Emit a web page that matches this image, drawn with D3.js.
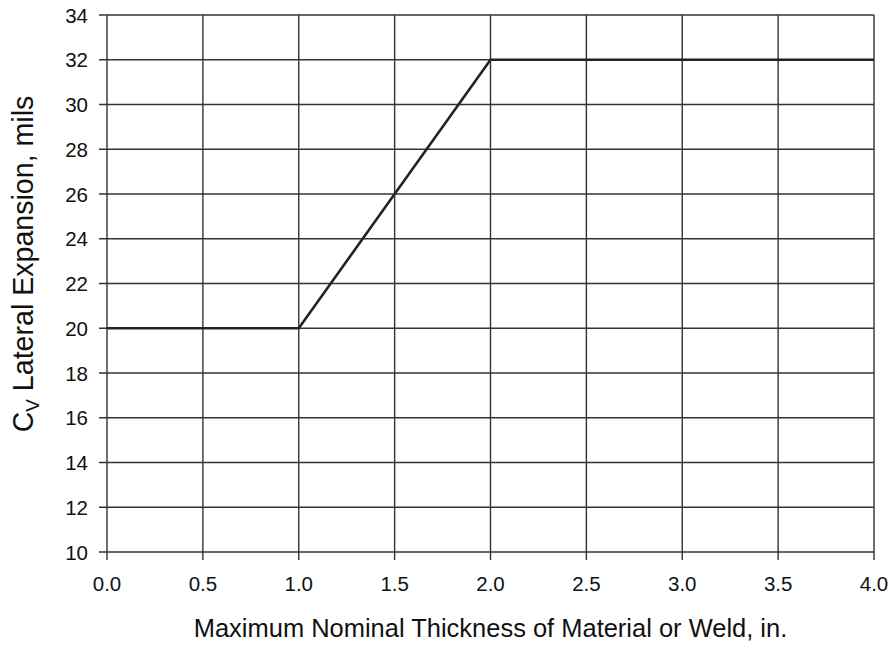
<!DOCTYPE html>
<html><head><meta charset="utf-8">
<script src="https://cdn.jsdelivr.net/npm/d3@7"></script>
<style>body{margin:0;background:#fff}svg{display:block;font-family:"Liberation Sans",Arial,sans-serif}</style>
</head><body>
<svg id="c" width="893" height="647"></svg>
<script>
const thickness = [0.0, 1.0, 2.0, 4.0];
const expansion = [20, 20, 32, 32];
const xTicks = [0, 0.5, 1, 1.5, 2, 2.5, 3, 3.5, 4];
const yTicks = [10, 12, 14, 16, 18, 20, 22, 24, 26, 28, 30, 32, 34];

const svg = d3.select("#c");
const m = {l: 107, r: 874, t: 15, b: 552};
const x = d3.scaleLinear().domain([0, 4]).range([m.l, m.r]);
const y = d3.scaleLinear().domain([10, 34]).range([m.b, m.t]);

// grid
svg.append("g").selectAll("line").data(xTicks).join("line")
  .attr("x1", d => x(d)).attr("x2", d => x(d)).attr("y1", m.t).attr("y2", m.b + 8)
  .attr("stroke", "#333").attr("stroke-width", 1.4);
svg.append("g").selectAll("line").data(yTicks).join("line")
  .attr("y1", d => y(d)).attr("y2", d => y(d)).attr("x1", m.l - 8).attr("x2", m.r)
  .attr("stroke", "#333").attr("stroke-width", 1.4);

// tick labels
svg.append("g").selectAll("text").data(yTicks).join("text")
  .attr("x", 88).attr("y", d => y(d) + 7.5)
  .attr("text-anchor", "end").attr("font-size", 20.5).attr("fill", "#111")
  .text(d => d);
svg.append("g").selectAll("text").data(xTicks).join("text")
  .attr("x", d => x(d)).attr("y", 591)
  .attr("text-anchor", "middle").attr("font-size", 20.5).attr("fill", "#111")
  .text(d => d3.format(".1f")(d));

// line
const pts = thickness.map((t, i) => [t, expansion[i]]);
svg.append("path").datum(pts)
  .attr("d", d3.line().x(d => x(d[0])).y(d => y(d[1])))
  .attr("fill", "none").attr("stroke", "#222").attr("stroke-width", 2.6);

// axis titles
const xt = svg.append("text").attr("x", (m.l + m.r) / 2).attr("y", 637)
  .attr("text-anchor", "middle").attr("font-size", 24).attr("fill", "#111")
  .text("Maximum Nominal Thickness of Material or Weld, in.");
const xw = xt.node().getComputedTextLength();
xt.attr("font-size", 24 * 594 / xw);

const yt = svg.append("text").attr("transform", `translate(33,264) rotate(-90)`)
  .attr("text-anchor", "middle").attr("font-size", 24).attr("fill", "#111");
yt.append("tspan").text("C");
const sub = yt.append("tspan").attr("font-size", 16).attr("dy", 6).text("V");
yt.append("tspan").attr("dy", -6).text(" Lateral Expansion, mils");
const yw = yt.node().getComputedTextLength();
const fs = 24 * 337 / yw;
yt.attr("font-size", fs);
sub.attr("font-size", fs * 0.66);
</script>
</body></html>
